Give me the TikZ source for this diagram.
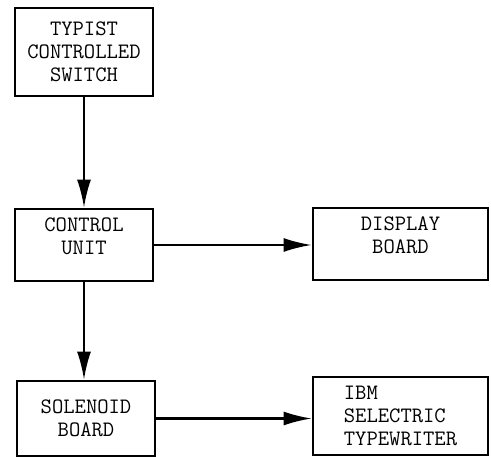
\documentclass[tikz,border=0pt]{standalone}
\usetikzlibrary{arrows.meta,positioning}

\begin{document}
\begin{tikzpicture}[x=1pt,y=-1pt,
  blk/.style={draw, line width=2.8pt, inner sep=0pt, align=center,
    font=\ttfamily\fontsize{22}{23}\selectfont},
  flow/.style={line width=2.2pt, -{Latex[length=28pt,width=14pt]}}]
\useasboundingbox (0,0) rectangle (491,457);
% Blocks
\node[blk, minimum width=138pt, minimum height=88pt] (switch) at (84,52) {TYPIST\\CONTROLLED\\SWITCH};
\node[blk, minimum width=138pt, minimum height=72pt, text depth=17pt] (ctrl) at (84,245) {CONTROL\\UNIT};
\node[blk, minimum width=175pt, minimum height=72pt, text depth=17pt] (disp) at (400.5,244) {DISPLAY\\BOARD};
\node[blk, minimum width=138pt, minimum height=75pt] (sol) at (86,418.5) {SOLENOID\\BOARD};
\node[blk, minimum width=175pt, minimum height=78pt, align=left] (ibm) at (400.5,416) {IBM\\SELECTRIC\\TYPEWRITER};
% Connections
\draw[flow] (switch) -- (ctrl);
\draw[flow] (ctrl.east) -- (ctrl.east -| disp.west);
\draw[flow] (ctrl.south) -- (ctrl.south |- sol.north);
\draw[flow] (sol.east) -- (sol.east -| ibm.west);
\end{tikzpicture}
\end{document}
